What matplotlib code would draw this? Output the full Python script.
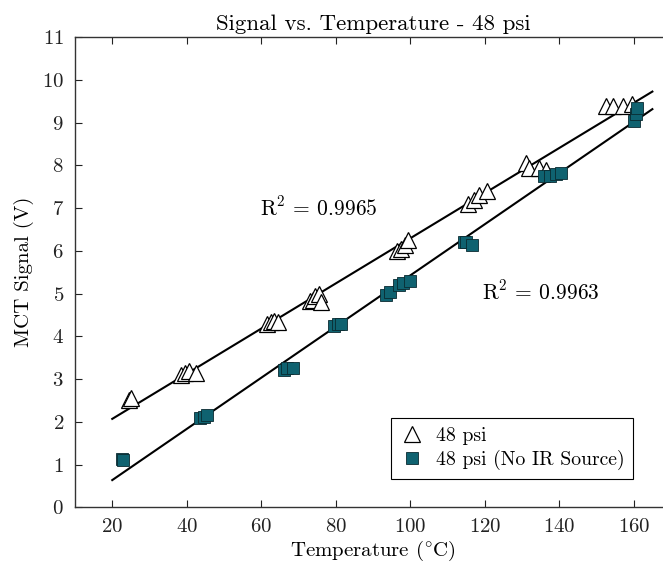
import numpy as np
import matplotlib
matplotlib.use("Agg")
import matplotlib.pyplot as plt

plt.rcParams["font.family"] = "serif"
plt.rcParams["font.serif"] = ["cmr10", "DejaVu Serif"]
plt.rcParams["mathtext.fontset"] = "cm"
plt.rcParams["axes.formatter.use_mathtext"] = True

# Signal with IR source, 48 psi
temp_ir = [24.5, 25.0, 38.5, 39.5, 40.5, 42.5, 61.5, 62.5, 63.5, 64.5,
           73.0, 74.0, 74.5, 75.5, 76.0, 96.5, 97.5, 98.5, 99.5,
           115.5, 117.0, 118.5, 120.5, 131.0, 132.0, 134.5, 136.5,
           152.5, 154.5, 157.0, 159.5]
sig_ir = [2.50, 2.55, 3.10, 3.15, 3.18, 3.15, 4.30, 4.33, 4.35, 4.33,
          4.82, 4.85, 4.95, 5.00, 4.80, 6.00, 6.05, 6.15, 6.25,
          7.10, 7.20, 7.30, 7.40, 8.05, 7.95, 7.95, 7.90,
          9.40, 9.40, 9.40, 9.45]

# Signal without IR source, 48 psi
temp_noir = [22.5, 23.0, 43.5, 44.5, 45.5, 66.0, 67.0, 68.5,
             79.5, 80.5, 81.5, 93.5, 94.5, 97.0, 98.0, 100.0,
             114.5, 115.0, 116.5, 136.0, 137.5, 139.0, 140.5,
             160.0, 160.5, 160.8]
sig_noir = [1.12, 1.10, 2.10, 2.12, 2.15, 3.22, 3.25, 3.25,
            4.25, 4.30, 4.30, 4.98, 5.05, 5.20, 5.25, 5.30,
            6.22, 6.20, 6.15, 7.75, 7.75, 7.80, 7.82,
            9.05, 9.20, 9.35]

r2_labels = ["0.9965", "0.9963"]
fit_range = [20, 165]
x_ticks = [20, 40, 60, 80, 100, 120, 140, 160]
y_ticks = list(range(0, 12))

W, H = 663, 568
fig = plt.figure(figsize=(W / 100, H / 100), dpi=100)
left, right, top, bottom = 75, 671, 37.3, 507.3
ax = fig.add_axes([left / W, 1 - bottom / H, (right - left) / W, (bottom - top) / H])

teal = "#0f6270"
xf = np.array(fit_range, dtype=float)
for tx, sy in [(temp_ir, sig_ir), (temp_noir, sig_noir)]:
    m, b = np.polyfit(tx, sy, 1)
    ax.plot(xf, m * xf + b, color="black", lw=1.5, zorder=2)

ax.plot(temp_ir, sig_ir, ls="none", marker="^", ms=11, mfc="white",
        mec="black", mew=0.9, label="48 psi", zorder=3)
ax.plot(temp_noir, sig_noir, ls="none", marker="s", ms=8.5, mfc=teal,
        mec="#0a2a30", mew=0.6, label="48 psi (No IR Source)", zorder=4)

ax.text(75.5, 7.02, r"$\mathrm{R}^2$ = " + r2_labels[0], fontsize=15.5,
        ha="center", va="center")
ax.text(135.0, 5.05, r"$\mathrm{R}^2$ = " + r2_labels[1], fontsize=15.5,
        ha="center", va="center")

ax.set_xlim(10, 170)
ax.set_ylim(0, 11)
ax.set_xticks(x_ticks)
ax.set_yticks(y_ticks)
ax.tick_params(direction="in", length=5, width=0.8, top=True, right=False,
               labelsize=15, colors="#222222", pad=8)
for s in ["left", "bottom", "top"]:
    ax.spines[s].set_color("#333333")
    ax.spines[s].set_linewidth(1.0)
ax.spines["right"].set_visible(False)

ax.set_xlabel(r"Temperature ($^{\circ}$C)", fontsize=15, labelpad=2)
ax.set_ylabel("MCT Signal (V)", fontsize=15, labelpad=6)
ax.set_title("Signal vs. Temperature - 48 psi", fontsize=16.5, pad=5)

leg = ax.legend(loc="lower right", bbox_to_anchor=(643 / W, 1 - 489 / H),
                bbox_transform=fig.transFigure, fontsize=14.2, fancybox=False,
                framealpha=1, edgecolor="black", borderpad=0.45,
                handletextpad=0.6, labelspacing=0.25, handlelength=1.2)
leg.get_frame().set_linewidth(0.8)

fig.savefig("out.png", dpi=100)
